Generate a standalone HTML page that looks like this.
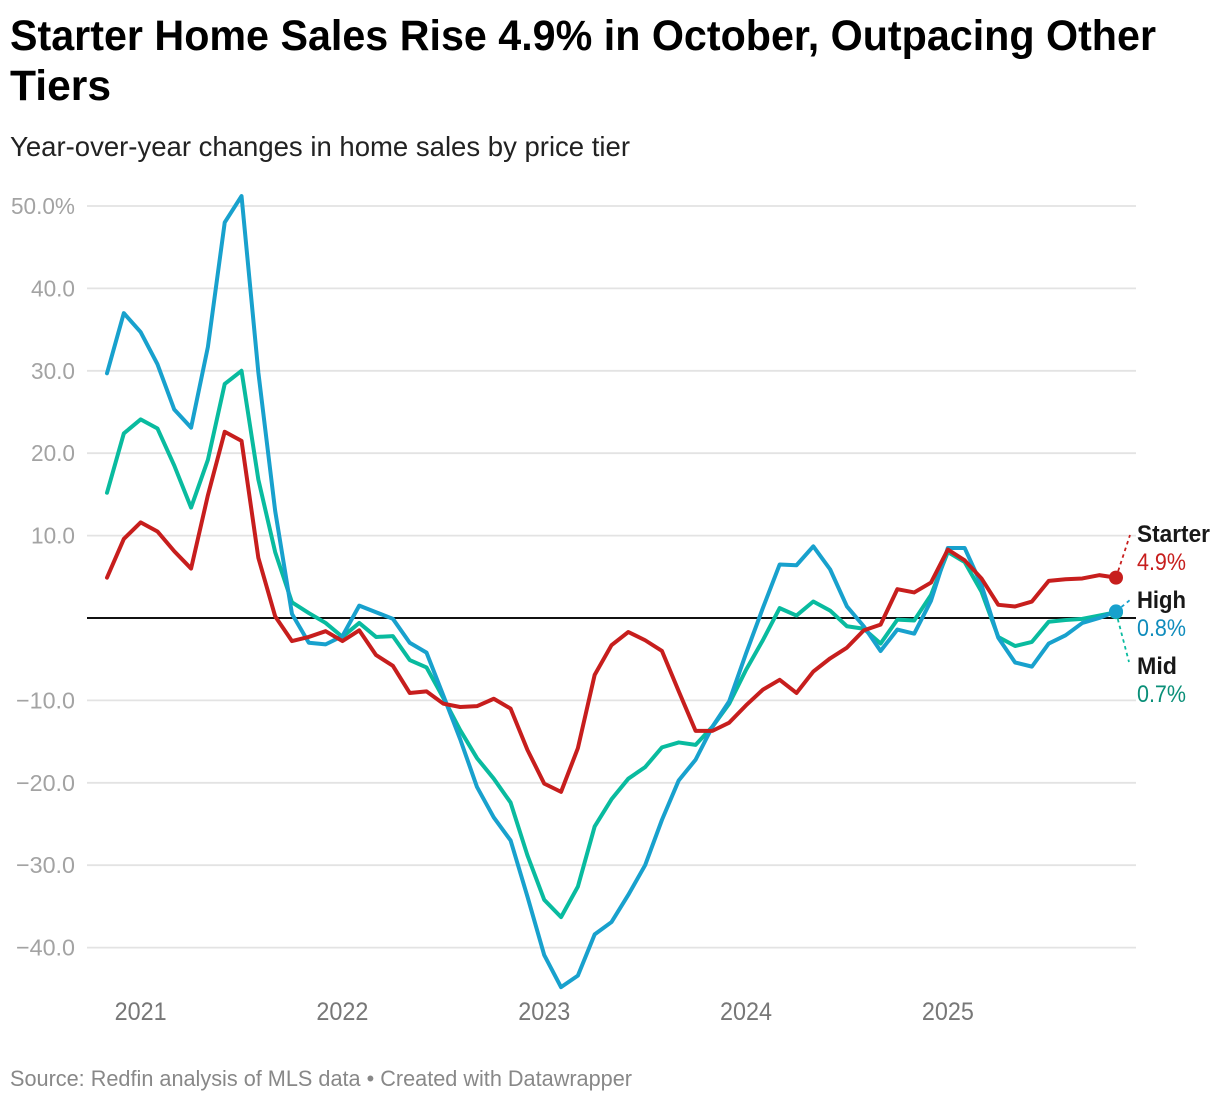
<!DOCTYPE html>
<html lang="en">
<head>
<meta charset="utf-8">
<title>Starter Home Sales Rise 4.9% in October, Outpacing Other Tiers</title>
<style>
html,body{margin:0;padding:0;background:#fff;width:1220px;height:1102px;overflow:hidden}
svg{display:block;font-family:"Liberation Sans",sans-serif}
</style>
</head>
<body>
<svg id="chart" xmlns="http://www.w3.org/2000/svg" width="1220" height="1102" viewBox="0 0 1220 1102">
  <text x="10" y="50" font-size="43" font-weight="700" fill="#000" textLength="1146" lengthAdjust="spacingAndGlyphs">Starter Home Sales Rise 4.9% in October, Outpacing Other</text>
  <text x="10" y="100" font-size="43" font-weight="700" fill="#000" textLength="101" lengthAdjust="spacingAndGlyphs">Tiers</text>
  <text x="10" y="156" font-size="28" fill="#222" textLength="620" lengthAdjust="spacingAndGlyphs">Year-over-year changes in home sales by price tier</text>
  <g id="grid"></g>
  <g id="yticks"></g>
  <g id="xticks"></g>
  <g id="series"></g>
  <g id="leaders"></g>
  <g id="dots"></g>
  <g id="labels"></g>
  <text x="10" y="1086" font-size="22" fill="#888" textLength="622" lengthAdjust="spacingAndGlyphs">Source: Redfin analysis of MLS data • Created with Datawrapper</text>
</svg>
<script>
const months = [
  "2020-10","2020-11","2020-12",
  "2021-01","2021-02","2021-03","2021-04","2021-05","2021-06","2021-07","2021-08","2021-09","2021-10","2021-11","2021-12",
  "2022-01","2022-02","2022-03","2022-04","2022-05","2022-06","2022-07","2022-08","2022-09","2022-10","2022-11","2022-12",
  "2023-01","2023-02","2023-03","2023-04","2023-05","2023-06","2023-07","2023-08","2023-09","2023-10","2023-11","2023-12",
  "2024-01","2024-02","2024-03","2024-04","2024-05","2024-06","2024-07","2024-08","2024-09","2024-10","2024-11","2024-12",
  "2025-01","2025-02","2025-03","2025-04","2025-05","2025-06","2025-07","2025-08","2025-09","2025-10"
];
const highValues = [
  29.7,37.0,34.7,30.8,25.3,23.1,32.9,48.0,51.2,29.8,
  13.0,0.5,-3.0,-3.2,-2.2,1.5,0.7,-0.1,-3.0,-4.2,
  -9.4,-14.7,-20.5,-24.2,-27.0,-33.8,-40.9,-44.8,-43.4,-38.4,
  -36.9,-33.6,-30.0,-24.5,-19.7,-17.2,-13.2,-10.1,-4.3,1.2,
  6.5,6.4,8.7,5.9,1.4,-1.0,-4.0,-1.4,-1.9,2.1,
  8.5,8.5,4.0,-2.4,-5.4,-5.9,-3.1,-2.1,-0.6,0.0,0.8
];
const midValues = [
  15.2,22.4,24.1,23.0,18.5,13.4,19.2,28.4,30.0,16.8,
  8.0,1.9,0.6,-0.6,-2.3,-0.6,-2.3,-2.2,-5.1,-6.0,
  -9.7,-13.6,-17.0,-19.5,-22.4,-28.8,-34.2,-36.3,-32.6,-25.3,
  -22.0,-19.5,-18.1,-15.7,-15.1,-15.4,-13.2,-10.4,-6.3,-2.7,
  1.2,0.3,2.0,0.9,-1.0,-1.3,-3.1,-0.2,-0.3,2.8,
  8.0,6.8,3.2,-2.3,-3.4,-2.9,-0.45,-0.25,-0.1,0.3,0.7
];
const starterValues = [
  4.9,9.6,11.6,10.5,8.1,6.0,14.9,22.6,21.5,7.3,
  0.2,-2.8,-2.3,-1.6,-2.8,-1.5,-4.5,-5.8,-9.1,-8.9,
  -10.4,-10.8,-10.7,-9.8,-11.0,-16.0,-20.1,-21.1,-15.8,-6.9,
  -3.3,-1.7,-2.7,-4.0,-8.9,-13.7,-13.7,-12.7,-10.6,-8.7,
  -7.5,-9.1,-6.5,-4.9,-3.6,-1.5,-0.8,3.5,3.1,4.3,
  8.3,7.0,4.8,1.6,1.4,2.0,4.5,4.7,4.8,5.2,4.9
];
const yTickValues = [50,40,30,20,10,0,-10,-20,-30,-40];
const yTickLabels = ["50.0%","40.0","30.0","20.0","10.0","","−10.0","−20.0","−30.0","−40.0"];
const xTickMonths = ["2020-12","2021-12","2022-12","2023-12","2024-12"];
const xTickLabels = ["2021","2022","2023","2024","2025"];

const NS = "http://www.w3.org/2000/svg";
function xScale(i){ return 107 + (1116 - 107) * i / (months.length - 1); }
function yScale(v){ return 618 - v * 8.24; }
function make(parent, tag, attrs, text){
  const el = document.createElementNS(NS, tag);
  for (const k in attrs) el.setAttribute(k, attrs[k]);
  if (text !== undefined) el.textContent = text;
  document.getElementById(parent).appendChild(el);
  return el;
}

yTickValues.forEach(function(v, i){
  const zero = v === 0;
  const line = make("grid", "line", {x1:87, x2:1136, y1:yScale(v), y2:yScale(v), stroke: zero ? "#111" : "#e3e3e3", "stroke-width": zero ? 2 : 1.8});
  
  
  const label = yTickLabels[i];
  if (!label) return;
  const w = label.length === 5 ? (label[0] === "−" ? 59 : 64) : 44;
  const t = make("yticks", "text", {x:75 - w, y:yScale(v) + 8, "font-size":23.5, fill:"#a3a3a3", textLength:w, lengthAdjust:"spacingAndGlyphs"}, label);
  
  
});

xTickMonths.forEach(function(m, i){
  const t = make("xticks", "text", {x:xScale(months.indexOf(m)) - 26, y:1020, "font-size":25, fill:"#777", textLength:52, lengthAdjust:"spacingAndGlyphs"}, xTickLabels[i]);
  
  
});

function drawLine(values, colour){
  const d = values.map(function(v, i){ return (i ? "L" : "M") + xScale(i).toFixed(2) + " " + yScale(v).toFixed(2); }).join("");
  return make("series", "path", {d:d, fill:"none", stroke:colour, "stroke-width":4, "stroke-linejoin":"round", "stroke-linecap":"round"});
}
const midLine = drawLine(midValues, "#09bb9f");


const highLine = drawLine(highValues, "#18a1cd");


const starterLine = drawLine(starterValues, "#c71e1d");



const lastI = months.length - 1;
function leader(values, endX, endY, colour){
  return make("leaders", "line", {x1:xScale(lastI), y1:yScale(values[lastI]), x2:endX, y2:endY, stroke:colour, "stroke-width":1.8, "stroke-dasharray":"3.5 3.5"});
}
const leaderStarter = leader(starterValues, 1130, 535, "#c71e1d");


const leaderHigh = leader(highValues, 1130, 600, "#18a1cd");


const leaderMid = leader(midValues, 1129, 662, "#09bb9f");



function dot(values, colour){
  return make("dots", "circle", {cx:xScale(lastI), cy:yScale(values[lastI]), r:7, fill:colour});
}
const dotMid = dot(midValues, "#09bb9f");


const dotStarter = dot(starterValues, "#c71e1d");


const dotHigh = dot(highValues, "#18a1cd");



function nameLabel(text, y, w){
  return make("labels", "text", {x:1137, y:y, "font-size":24, "font-weight":700, fill:"#181818", textLength:w, lengthAdjust:"spacingAndGlyphs"}, text);
}
function valueLabel(values, y, colour){
  return make("labels", "text", {x:1137, y:y, "font-size":24, fill:colour, textLength:49, lengthAdjust:"spacingAndGlyphs"}, values[lastI].toFixed(1) + "%");
}
const nameStarter = nameLabel("Starter", 542, 73);


const valueStarter = valueLabel(starterValues, 570, "#c71e1d");


const nameHigh = nameLabel("High", 608, 49);


const valueHigh = valueLabel(highValues, 636, "#0f8cbc");


const nameMid = nameLabel("Mid", 674, 40);


const valueMid = valueLabel(midValues, 702, "#0a8f78");


</script>
</body>
</html>
